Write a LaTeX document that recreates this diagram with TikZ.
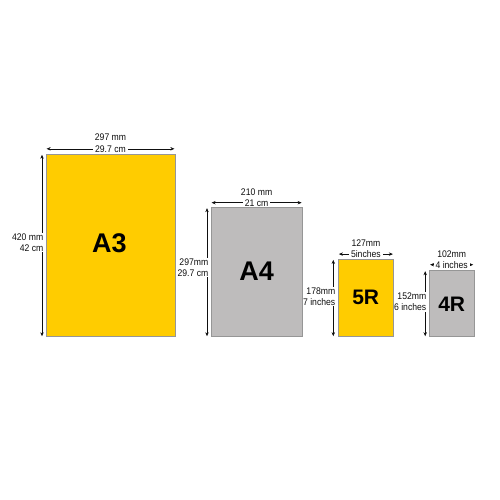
\documentclass[tikz,border=0pt]{standalone}
\usepackage{fontspec}
\setmainfont{Liberation Sans}
\newfontfamily\dimfont[FakeStretch=0.9]{Liberation Sans}
\usetikzlibrary{arrows.meta,calc}
\definecolor{paperyellow}{RGB}{255,204,0}
\definecolor{papergray}{RGB}{190,188,188}
\definecolor{edgegray}{RGB}{150,150,150}
\definecolor{dimink}{RGB}{15,15,15}
\begin{document}
\begin{tikzpicture}[x=1pt,y=-1pt,
  paper/.style={draw=edgegray,line width=0.5pt,inner sep=0pt,outer sep=0pt,anchor=south west},
  yellowpaper/.style={paper,fill=paperyellow},
  graypaper/.style={paper,fill=papergray},
  bigA/.style={font=\fontsize{27}{27}\selectfont\bfseries,text=black,inner sep=0pt},
  bigR/.style={font=\fontsize{21}{21}\selectfont\bfseries,text=black,inner sep=0pt},
  dimtxt/.style={font=\dimfont\fontsize{9.6}{11}\selectfont,text=dimink,inner sep=0.5pt},
  dimgap/.style={dimtxt,fill=white,inner xsep=2pt},
  sidetxt/.style={dimtxt,fill=white,align=right,anchor=east,inner ysep=1pt,inner xsep=0.5pt},
  dimline/.style={draw=dimink,line width=0.55pt,{Stealth[length=4pt,width=3.4pt]}-{Stealth[length=4pt,width=3.4pt]}}
]
\useasboundingbox[fill=white] (0,0) rectangle (500,500);

% papers (bottom-left corner, in image pixels)
\node[yellowpaper,minimum width=129pt,minimum height=182.4pt] (A3) at (46,336.7) {};
\node[graypaper,minimum width=91.2pt,minimum height=129pt] (A4) at (211,336.7) {};
\node[yellowpaper,minimum width=55.2pt,minimum height=77.3pt] (R5) at (338.3,336.7) {};
\node[graypaper,minimum width=44.3pt,minimum height=66pt] (R4) at (429.5,336.7) {};

% big labels
\node[bigA] (A3t) at (109.5,243.5) {A3};
\node[bigA] (A4t) at (256.7,271.5) {A4};
\node[bigR] (R5t) at (365.7,297) {5R};
\node[bigR] (R4t) at (451.7,304.5) {4R};

% ---- A3 dimensions
\coordinate (A3tl) at ($(A3.north west)+(0.6,-5.5)$);
\coordinate (A3tr) at ($(A3.north east)+(-0.6,-5.5)$);
\draw[dimline] (A3tl) -- (A3tr);
\node[dimgap] (A3w2) at ($(A3tl)!0.5!(A3tr)$) {29.7 cm};
\node[dimtxt] (A3w1) at ($(A3w2)+(0,-11.5)$) {297 mm};
\coordinate (A3lt) at ($(A3.north west)+(-4,0.5)$);
\coordinate (A3lb) at ($(A3.south west)+(-4,-0.5)$);
\draw[dimline] (A3lt) -- (A3lb);
\node[sidetxt] (A3h) at (44,242.5) {420 mm\\42 cm};

% ---- A4 dimensions
\coordinate (A4tl) at ($(A4.north west)+(0.6,-5)$);
\coordinate (A4tr) at ($(A4.north east)+(-0.6,-5)$);
\draw[dimline] (A4tl) -- (A4tr);
\node[dimgap] (A4w2) at ($(A4tl)!0.5!(A4tr)$) {21 cm};
\node[dimtxt] (A4w1) at ($(A4w2)+(0,-11)$) {210 mm};
\coordinate (A4lt) at ($(A4.north west)+(-4,0.5)$);
\coordinate (A4lb) at ($(A4.south west)+(-4,-0.5)$);
\draw[dimline] (A4lt) -- (A4lb);
\node[sidetxt] (A4h) at (209,267.5) {297mm\\29.7 cm};

% ---- 5R dimensions
\coordinate (R5tl) at ($(R5.north west)+(0.6,-5.3)$);
\coordinate (R5tr) at ($(R5.north east)+(-0.6,-5.3)$);
\draw[dimline] (R5tl) -- (R5tr);
\node[dimgap] (R5w2) at ($(R5tl)!0.5!(R5tr)$) {5inches};
\node[dimtxt] (R5w1) at ($(R5w2)+(0,-10.5)$) {127mm};
\coordinate (R5lt) at ($(R5.north west)+(-5,0.5)$);
\coordinate (R5lb) at ($(R5.south west)+(-5,-0.5)$);
\draw[dimline] (R5lt) -- (R5lb);
\node[sidetxt] (R5h) at (336,296.5) {178mm\\7 inches};

% ---- 4R dimensions
\coordinate (R4tl) at ($(R4.north west)+(0.6,-6)$);
\coordinate (R4tr) at ($(R4.north east)+(-0.6,-6)$);
\draw[dimline] (R4tl) -- (R4tr);
\node[dimgap] (R4w2) at ($(R4tl)!0.5!(R4tr)$) {4 inches};
\node[dimtxt] (R4w1) at ($(R4w2)+(0,-10.5)$) {102mm};
\coordinate (R4lt) at ($(R4.north west)+(-4.3,0.5)$);
\coordinate (R4lb) at ($(R4.south west)+(-4.3,-0.5)$);
\draw[dimline] (R4lt) -- (R4lb);
\node[sidetxt] (R4h) at (427,302) {152mm\\6 inches};
\end{tikzpicture}
\end{document}
